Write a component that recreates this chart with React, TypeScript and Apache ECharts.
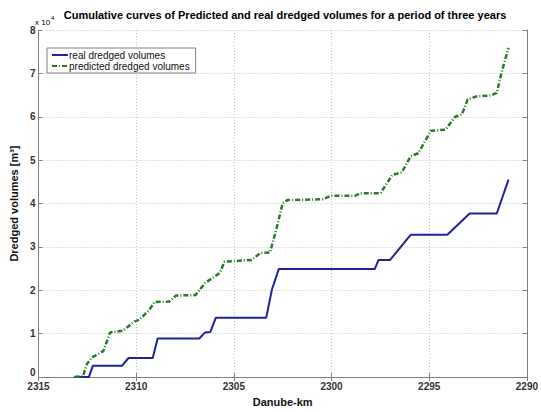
import React, { useEffect, useRef } from "react";
import * as echarts from "echarts";

// Danube-km positions and cumulative volumes (in units of 10^4 m³)
const realKm = [
  2313.16, 2312.42, 2312.22, 2310.73, 2310.39, 2309.15, 2308.9, 2306.77, 2306.47,
  2306.2, 2305.92, 2303.34, 2303.05, 2302.7, 2297.79, 2297.59, 2297.0, 2295.95,
  2294.07, 2292.93, 2291.54, 2290.94,
];
const realVol = [
  0, 0, 0.26, 0.26, 0.44, 0.44, 0.89, 0.89, 1.03, 1.04, 1.37, 1.37, 2.02, 2.49,
  2.49, 2.7, 2.7, 3.28, 3.28, 3.77, 3.77, 4.55,
];
const predKm = [
  2313.16, 2312.72, 2312.52, 2312.27, 2311.68, 2311.33, 2310.68, 2310.09, 2309.84,
  2309.35, 2309.05, 2308.3, 2307.96, 2306.96, 2306.47, 2306.07, 2305.72, 2305.48,
  2304.09, 2303.64, 2303.15, 2302.8, 2302.5, 2302.25, 2300.42, 2300.02, 2298.78,
  2298.53, 2297.49, 2296.89, 2296.4, 2295.95, 2295.56, 2294.91, 2294.17, 2293.67,
  2293.33, 2293.03, 2292.58, 2291.84, 2291.54, 2291.29, 2290.94,
];
const predVol = [
  0, 0.02, 0.3, 0.45, 0.6, 1.03, 1.07, 1.28, 1.32, 1.54, 1.73, 1.74, 1.88, 1.89,
  2.17, 2.29, 2.4, 2.66, 2.7, 2.86, 2.87, 3.45, 4.01, 4.08, 4.1, 4.18, 4.18, 4.24,
  4.24, 4.66, 4.72, 5.09, 5.16, 5.68, 5.7, 6.0, 6.05, 6.4, 6.47, 6.49, 6.55, 7.03,
  7.59,
];

const seriesNames = ["real dredged volumes", "predicted dredged volumes"];
const titleText =
  "Cumulative curves of Predicted and real dredged volumes for a period of three years";
const xName = "Danube-km";
const yName = "Dredged volumes [m³]";
const xMin = 2290;
const xMax = 2315;
const xStep = 5;
const yMin = 0;
const yMax = 8;
const yStep = 1;

const FONT = "'Liberation Sans', Arial, sans-serif";

export default function App() {
  const ref = useRef<HTMLDivElement>(null);
  useEffect(() => {
    if (!ref.current) return;
    const chart = echarts.init(ref.current, undefined, { renderer: "svg" });
    const axisLine = { show: true, lineStyle: { color: "#808080", width: 1 } };
    const tick = { show: true, inside: true, length: 4, lineStyle: { color: "#808080" } };
    const grid = { left: 33, top: 30, right: 4, bottom: 25 };
    chart.setOption({
      animation: false,
      backgroundColor: "#ffffff",
      textStyle: { fontFamily: FONT },
      grid,
      graphic: [
        {
          type: "text",
          x: 285,
          y: 9,
          style: {
            text: titleText,
            font: `bold 11px ${FONT}`,
            fill: "#000",
            align: "center",
            verticalAlign: "top",
          },
        },
        {
          type: "text",
          x: 35,
          y: 18,
          style: {
            text: "x 10",
            font: `8px ${FONT}`,
            fill: "#000",
            align: "left",
            verticalAlign: "top",
          },
        },
        {
          type: "text",
          x: 51,
          y: 15,
          style: {
            text: "4",
            font: `6px ${FONT}`,
            fill: "#000",
            align: "left",
            verticalAlign: "top",
          },
        },
      ],
      legend: {
        orient: "vertical",
        left: 47,
        top: 48,
        data: seriesNames,
        backgroundColor: "#ffffff",
        borderColor: "#808080",
        borderWidth: 1,
        borderRadius: 0,
        padding: [2, 6, 2, 4],
        itemGap: 1,
        itemWidth: 16,
        itemHeight: 10,
        itemStyle: { opacity: 0 },
        textStyle: { fontSize: 10, color: "#111", fontFamily: FONT, padding: [0, 0, 0, -4] },
      },
      xAxis: [
        {
          type: "value",
          min: xMin,
          max: xMax,
          interval: xStep,
          inverse: true,
          position: "bottom",
          axisLine,
          axisTick: tick,
          axisLabel: {
            fontSize: 10,
            fontWeight: "bold",
            color: "#333",
            margin: 4,
            fontFamily: FONT,
            formatter: (v: number) => String(v),
          },
          splitLine: { show: true, lineStyle: { type: [1, 2], color: "#c4c4c4" } },
          name: xName,
          nameLocation: "middle",
          nameGap: 15,
          nameTextStyle: { fontSize: 11, fontWeight: "bold", color: "#111", fontFamily: FONT },
        },
        {
          type: "value",
          min: xMin,
          max: xMax,
          interval: xStep,
          inverse: true,
          position: "top",
          axisLine,
          axisTick: tick,
          axisLabel: { show: false },
          splitLine: { show: false },
        },
      ],
      yAxis: [
        {
          type: "value",
          min: yMin,
          max: yMax,
          interval: yStep,
          position: "left",
          axisLine,
          axisTick: tick,
          axisLabel: {
            fontSize: 10,
            fontWeight: "bold",
            color: "#333",
            margin: 3,
            fontFamily: FONT,
            formatter: (v: number) => (v === 0 ? "{z|0}" : String(v)),
            rich: {
              z: {
                fontSize: 10,
                fontWeight: "bold",
                color: "#333",
                fontFamily: FONT,
                padding: [0, 0, 10, 0],
              },
            },
          },
          splitLine: { show: true, lineStyle: { type: [1, 2], color: "#c4c4c4" } },
          name: yName,
          nameLocation: "middle",
          nameGap: 15,
          nameTextStyle: { fontSize: 11, fontWeight: "bold", color: "#111", fontFamily: FONT },
        },
        {
          type: "value",
          min: yMin,
          max: yMax,
          interval: yStep,
          position: "right",
          axisLine,
          axisTick: tick,
          axisLabel: { show: false },
          splitLine: { show: false },
        },
      ],
      series: [
        {
          name: seriesNames[0],
          type: "line",
          xAxisIndex: 0,
          yAxisIndex: 0,
          symbol: "none",
          data: realKm.map((k, i) => [k, realVol[i]]),
          lineStyle: { color: "#22229a", width: 2 },
          itemStyle: { color: "#22229a" },
        },
        {
          name: seriesNames[1],
          type: "line",
          xAxisIndex: 0,
          yAxisIndex: 0,
          symbol: "none",
          data: predKm.map((k, i) => [k, predVol[i]]),
          lineStyle: { color: "#2a7a2a", width: 2.5, type: [5, 2, 1, 2] },
          itemStyle: { color: "#2a7a2a" },
        },
      ],
    });
    return () => chart.dispose();
  }, []);
  return (
    <div
      ref={ref}
      style={{ position: "absolute", left: 0, top: 0, width: 541, height: 412, background: "#fff" }}
    />
  );
}
